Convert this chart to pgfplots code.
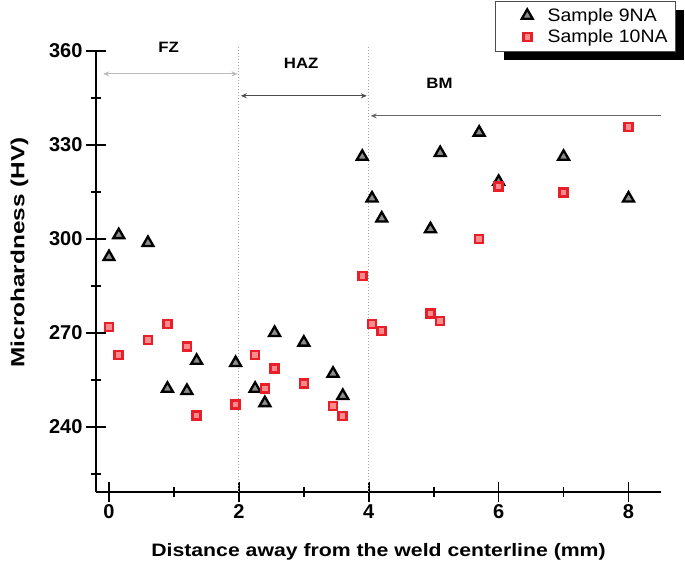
\documentclass[border=0pt]{standalone}
\usepackage{fontspec}
\setmainfont{Liberation Sans}
\usepackage{graphicx}
\usepackage{pgfplots}
\pgfplotsset{compat=1.18}
\usetikzlibrary{arrows.meta,shadows}
\definecolor{mkred}{RGB}{232,30,40}
\pgfplotstableread{
x y
0.00 294.3
0.15 301.3
0.60 298.8
0.90 252.3
1.20 251.6
1.35 261.2
1.95 260.5
2.25 252.3
2.40 247.7
2.55 270.1
3.00 267.0
3.45 257.1
3.60 250.0
3.90 326.3
4.05 313.0
4.20 306.6
4.95 303.2
5.10 327.5
5.70 334.0
6.00 318.3
7.00 326.3
8.00 313.0
}\nineNA
\pgfplotstableread{
x y
0.00 272.0
0.15 263.0
0.60 267.8
0.90 272.9
1.20 265.8
1.35 243.8
1.95 247.3
2.25 263.0
2.40 252.3
2.55 258.7
3.00 253.9
3.45 246.7
3.60 243.6
3.90 288.2
4.05 272.9
4.20 270.7
4.95 276.3
5.10 273.9
5.70 300.0
6.00 316.7
7.00 314.9
8.00 335.8
}\tenNA
\begin{document}
\begin{tikzpicture}[x=1pt,y=1pt]
\path[use as bounding box] (0,0) rectangle (685,564);
\begin{axis}[
  at={(96pt,72pt)}, anchor=south west,
  scale only axis, width=565pt, height=441pt,
  xmin=-0.2, xmax=8.5, ymin=219.3, ymax=360,
  clip=false,
  axis x line*=bottom, axis y line*=left,
  axis line style={line width=1.8pt, black},
  xtick={0,2,4,6,8}, ytick={240,270,300,330,360},
  minor xtick={1,3,5,7}, minor ytick={225,255,285,315,345},
  tick align=center,
  major tick length=20pt, minor tick length=10pt,
  tick style={line width=1.6pt, black},
  /pgf/number format/assume math mode=true,
  ticklabel style={font=\bfseries\fontsize{20}{22}\selectfont},
  xticklabel style={yshift=1pt},
  legend image code/.code={\path (-13pt,-6pt) (30pt,6pt);\draw[#1] plot coordinates {(12pt,0pt)};},
  legend style={at={(1.0265,1.1134)}, anchor=north east,
    draw=gray!60!black, line width=0.8pt, fill=white,
    font=\fontsize{18}{21}\selectfont,
    drop shadow={shadow xshift=8pt, shadow yshift=-9pt, fill=black, opacity=1},
    inner xsep=6pt, inner ysep=5pt, row sep=3pt},
  legend cell align=left,
]
\addplot[only marks, mark=triangle*, mark size=6.3pt,
  mark options={draw=black, fill=black!45, line width=2.3pt}] table[x=x,y=y] {\nineNA};
\addlegendentry{\scalebox{1.08}[1]{Sample 9NA}}
\addplot[only marks, mark=square*, mark size=4pt,
  mark options={draw=mkred, fill=red!45, line width=2.6pt}] table[x=x,y=y] {\tenNA};
\addlegendentry{\scalebox{1.08}[1]{Sample 10NA}}
% zone boundaries
\draw[gray!70, dotted, line width=1pt] (axis cs:2,219.3) -- (axis cs:2,361.2);
\draw[gray!70, dotted, line width=1pt] (axis cs:4,219.3) -- (axis cs:4,361.2);
% zone arrows
\draw[gray!55, line width=0.9pt, {Stealth[length=6pt,width=5pt]}-{Stealth[length=6pt,width=5pt]}] (axis cs:-0.09,352.7) -- (axis cs:1.98,352.7);
\draw[black!70, line width=1.3pt, {Stealth[length=6pt,width=5pt]}-{Stealth[length=6pt,width=5pt]}] (axis cs:2.03,345.7) -- (axis cs:3.97,345.7);
\draw[black!60, line width=1pt, {Stealth[length=6pt,width=5pt]}-] (axis cs:4.03,339.3) -- (axis cs:8.5,339.3);
\node[font=\bfseries\fontsize{15}{16}\selectfont] at (axis cs:0.92,361.3) {\scalebox{1.12}[1]{FZ}};
\node[font=\bfseries\fontsize{15}{16}\selectfont] at (axis cs:2.96,356.2) {\scalebox{1.12}[1]{HAZ}};
\node[font=\bfseries\fontsize{15}{16}\selectfont] at (axis cs:5.09,349.6) {\scalebox{1.12}[1]{BM}};
\end{axis}
\node[rotate=90, font=\bfseries\fontsize{19}{20}\selectfont] at (19.5,311.5) {\scalebox{1.28}[1]{Microhardness (HV)}};
\node[font=\bfseries\fontsize{18}{20}\selectfont] at (378.5,12.5) {\scalebox{1.18}[1]{Distance away from the weld centerline (mm)}};
\end{tikzpicture}
\end{document}
